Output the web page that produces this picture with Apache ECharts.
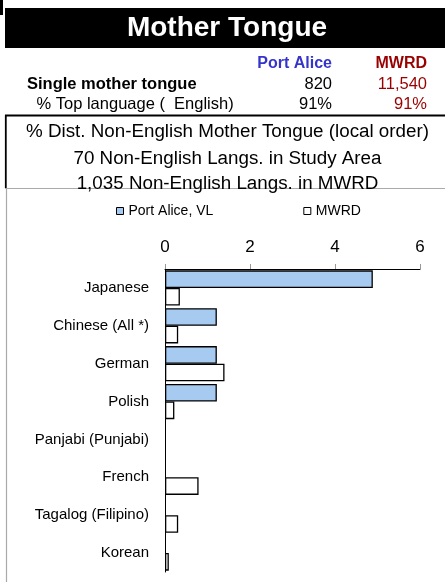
<!DOCTYPE html>
<html>
<head>
<meta charset="utf-8">
<script src="https://cdn.jsdelivr.net/npm/echarts@6/dist/echarts.min.js"></script>
<style>
html,body{margin:0;padding:0;background:#fff;}
#chart{width:445px;height:582px;}
</style>
</head>
<body>
<div id="chart"></div>
<script>
// ---- Data ----
const titleText = 'Mother Tongue';
const areaNames = ['Port Alice', 'MWRD'];
const singleMotherTongue = ['820', '11,540'];
const topLanguagePct = ['91%', '91%'];
const subtitleLines = [
  '% Dist. Non-English Mother Tongue (local order)',
  '70 Non-English Langs. in Study Area',
  '1,035 Non-English Langs. in MWRD'
];
const categories = ['Japanese', 'Chinese (All *)', 'German', 'Polish', 'Panjabi (Punjabi)', 'French', 'Tagalog (Filipino)', 'Korean'];
const seriesNames = ['Port Alice, VL', 'MWRD'];
const portAlice = [4.89, 1.22, 1.22, 1.22, 0, 0, 0, 0];
const mwrd = [0.35, 0.31, 1.40, 0.22, 0, 0.79, 0.31, 0.09];
const xTicks = [0, 2, 4, 6];

const FONT = "'Liberation Sans', Arial, sans-serif";
const BLUE = '#3535CC';
const RED = '#990000';

function txt(x, y, text, size, opts) {
  opts = opts || {};
  return {
    type: 'text', x: x, y: y, silent: true, z: 10,
    style: {
      text: text, fill: opts.fill || '#000',
      fontSize: size, fontFamily: FONT, fontWeight: opts.bold ? 'bold' : 'normal',
      align: opts.align || 'left', textAlign: opts.align || 'left',
      verticalAlign: 'middle', textVerticalAlign: 'middle'
    }
  };
}
function line(x1, y1, x2, y2, color, w) {
  return { type: 'line', silent: true, z: 5, shape: {x1: x1, y1: y1, x2: x2, y2: y2}, style: {stroke: color, lineWidth: w} };
}
// zero values are drawn as no bar (as in the reference)
function barData(arr) { return arr.map(function (v) { return v === 0 ? null : v; }); }

const graphics = [
  {type: 'rect', silent: true, shape: {x: 0, y: 0, width: 3, height: 15}, style: {fill: '#000'}},
  {type: 'rect', silent: true, shape: {x: 5, y: 8, width: 440, height: 40}, style: {fill: '#000'}},
  txt(227, 28, titleText, 28, {bold: true, fill: '#fff', align: 'center'}),
  txt(332, 64, areaNames[0], 16, {bold: true, fill: BLUE, align: 'right'}),
  txt(427, 64, areaNames[1], 16, {bold: true, fill: RED, align: 'right'}),
  txt(27, 84.5, 'Single mother tongue', 16.5, {bold: true}),
  txt(332, 84.5, singleMotherTongue[0], 16.5, {align: 'right'}),
  txt(427, 84.5, singleMotherTongue[1], 16.5, {align: 'right', fill: RED}),
  txt(36.5, 104.5, '% Top language (  English)', 16.5),
  txt(332, 104.5, topLanguagePct[0], 16.5, {align: 'right'}),
  txt(427, 104.5, topLanguagePct[1], 16.5, {align: 'right', fill: RED}),
  line(5, 115.6, 445, 115.6, '#000', 2),
  line(5.8, 115, 5.8, 188, '#000', 1.8),
  txt(227.5, 132, subtitleLines[0], 18.8, {align: 'center'}),
  txt(227.5, 158.5, subtitleLines[1], 18.8, {align: 'center'}),
  txt(227.5, 184, subtitleLines[2], 18.8, {align: 'center'}),
  line(5, 188.5, 445, 188.5, '#aaa', 1),
  line(6.5, 188, 6.5, 582, '#aaa', 1.2)
];

const chart = echarts.init(document.getElementById('chart'), null, {renderer: 'canvas'});
chart.setOption({
  animation: false,
  backgroundColor: '#fff',
  textStyle: {fontFamily: FONT},
  graphic: graphics,
  legend: {
    left: 116, top: 204, padding: 0,
    itemWidth: 7, itemHeight: 7, itemGap: 90,
    icon: 'rect',
    textStyle: {fontSize: 14, color: '#000', fontFamily: FONT},
    data: [
      {name: seriesNames[0], itemStyle: {color: '#A6CAF0', borderColor: '#000', borderWidth: 1}},
      {name: seriesNames[1], itemStyle: {color: '#fff', borderColor: '#000', borderWidth: 1}}
    ]
  },
  grid: {left: 165, right: 25, top: 269, bottom: 10, containLabel: false},
  xAxis: {
    type: 'value', position: 'top',
    min: xTicks[0], max: xTicks[xTicks.length - 1], interval: xTicks[1] - xTicks[0],
    axisLine: {show: true, lineStyle: {color: '#000', width: 1}},
    axisTick: {show: true, length: 5, lineStyle: {color: '#999'}},
    splitLine: {show: false},
    axisLabel: {fontSize: 17, color: '#000', margin: 13, fontFamily: FONT}
  },
  yAxis: {
    type: 'category', inverse: true, data: categories,
    axisLine: {show: true, lineStyle: {color: '#000', width: 1}},
    axisTick: {show: false},
    axisLabel: {fontSize: 15, color: '#000', margin: 16, fontFamily: FONT}
  },
  series: [
    {
      name: seriesNames[0], type: 'bar', data: barData(portAlice),
      barGap: '0%', barCategoryGap: '7%',
      itemStyle: {color: '#A6CAF0', borderColor: '#000', borderWidth: 1.3}
    },
    {
      name: seriesNames[1], type: 'bar', data: barData(mwrd),
      barGap: '0%', barCategoryGap: '7%',
      itemStyle: {color: '#fff', borderColor: '#000', borderWidth: 1.3}
    }
  ]
});
</script>
</body>
</html>
